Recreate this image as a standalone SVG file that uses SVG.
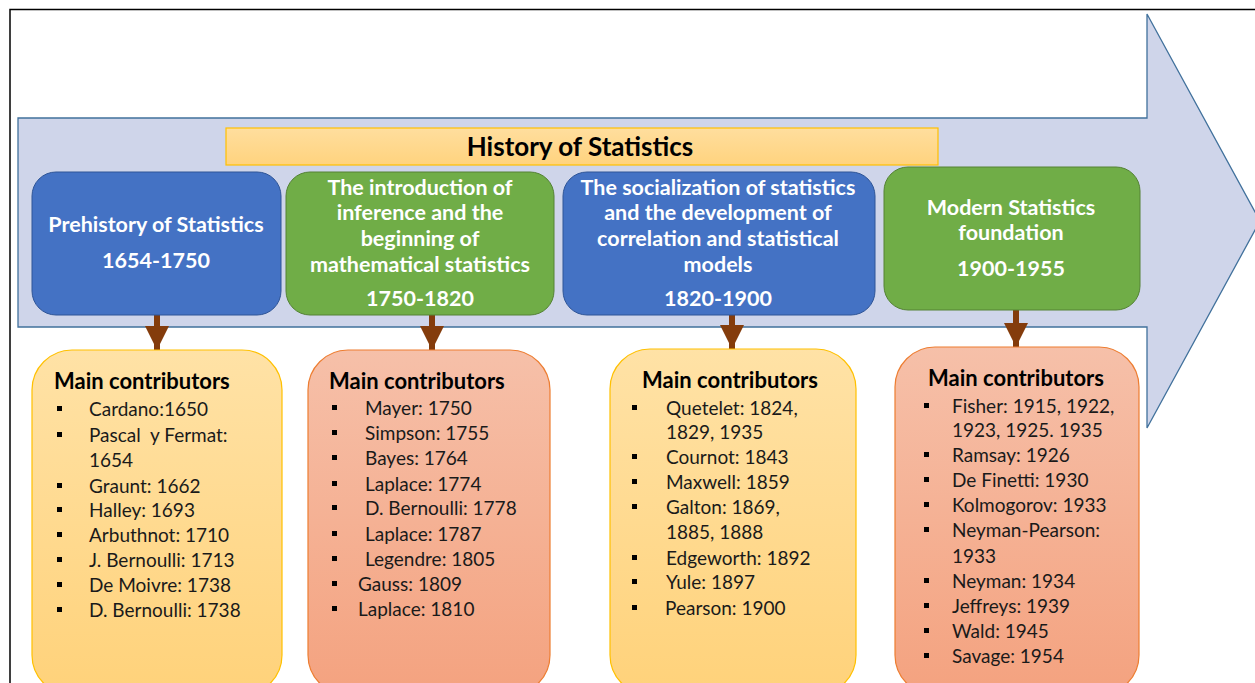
<svg xmlns="http://www.w3.org/2000/svg" width="1255" height="683" viewBox="0 0 1255 683">
<defs>
<linearGradient id="gY" x1="0" y1="0" x2="0" y2="1"><stop offset="0" stop-color="#FFE2A6"/><stop offset="1" stop-color="#FFD27A"/></linearGradient>
<linearGradient id="gS" x1="0" y1="0" x2="0" y2="1"><stop offset="0" stop-color="#F6C0A9"/><stop offset="1" stop-color="#F4A27F"/></linearGradient>
<linearGradient id="gT" x1="0" y1="0" x2="0" y2="1"><stop offset="0" stop-color="#FFDE9E"/><stop offset="1" stop-color="#FFD37E"/></linearGradient>
<marker id="ah" viewBox="0 0 10 10" refX="10" refY="5" markerWidth="4" markerHeight="4" markerUnits="strokeWidth" orient="auto"><path d="M0,0 L10,5 L0,10 z" fill="#843C0C"/></marker>
<style>
.nd{font-family:Lato,"Liberation Sans",sans-serif;font-weight:bold;fill:#fff;font-size:21.5px;text-anchor:middle}
.hd{font-family:Lato,"Liberation Sans",sans-serif;font-weight:bold;fill:#000;font-size:22px}
.it{font-family:Lato,"Liberation Sans",sans-serif;fill:#1a1a1a;font-size:19px}
.bl{fill:#000}
.blue{fill:#4472C4;stroke:#2F5597;stroke-width:1}
.green{fill:#70AD47;stroke:#548235;stroke-width:1}
.ybox{fill:url(#gY);stroke:#FFC000;stroke-width:1.2}
.sbox{fill:url(#gS);stroke:#ED7D31;stroke-width:1.2}
.conn{stroke:#843C0C;stroke-width:6;fill:none}
</style>
</defs>
<rect x="0" y="0" width="1255" height="683" fill="#fff"/>
<rect x="10" y="9.5" width="1260" height="700" fill="none" stroke="#000" stroke-width="1.5"/>
<g id="bigArrow">
<path d="M18,118 L1147,118 L1147,14 L1260,221 L1147,428 L1147,327 L18,327 Z" fill="#CFD5EA" stroke="#41719C" stroke-width="1.3"/>
</g>
<g id="title">
<rect x="226" y="128" width="712" height="37" fill="url(#gT)" stroke="#FFC000" stroke-width="1.2"/>
<text x="580" y="156" style="font-family:Lato,'Liberation Sans',sans-serif;font-weight:bold;font-size:26px;text-anchor:middle;fill:#000">History of Statistics</text>
</g>
<g id="connectors">
<line class="conn" x1="157" y1="315" x2="157" y2="350" marker-end="url(#ah)"/>
<line class="conn" x1="432" y1="315" x2="432" y2="350" marker-end="url(#ah)"/>
<line class="conn" x1="732" y1="315" x2="732" y2="349" marker-end="url(#ah)"/>
<line class="conn" x1="1016" y1="310" x2="1016" y2="347" marker-end="url(#ah)"/>
</g>
<g id="node1">
<rect class="blue" x="32" y="172" width="249" height="143" rx="24"/>
<text class="nd" x="156" y="231.5">Prehistory of Statistics</text>
<text class="nd" x="156" y="267.5">1654-1750</text>
</g>
<g id="node2">
<rect class="green" x="286" y="172" width="268" height="143" rx="24"/>
<text class="nd" x="420" y="194.5">The introduction of</text>
<text class="nd" x="420" y="219.5">inference and the</text>
<text class="nd" x="420" y="245.5">beginning of</text>
<text class="nd" x="420" y="271.5">mathematical statistics</text>
<text class="nd" x="420" y="305.5">1750-1820</text>
</g>
<g id="node3">
<rect class="blue" x="563" y="172" width="312" height="143" rx="24"/>
<text class="nd" x="718" y="194.5">The socialization of statistics</text>
<text class="nd" x="718" y="219.5">and the development of</text>
<text class="nd" x="718" y="245.5">correlation and statistical</text>
<text class="nd" x="718" y="271.5">models</text>
<text class="nd" x="718" y="305.5">1820-1900</text>
</g>
<g id="node4">
<rect class="green" x="884" y="167" width="256" height="143" rx="24"/>
<text class="nd" x="1011" y="214.5">Modern Statistics</text>
<text class="nd" x="1011" y="239.5">foundation</text>
<text class="nd" x="1011" y="275.5">1900-1955</text>
</g>
<g id="box1">
<rect class="ybox" x="32" y="350" width="250" height="345" rx="40"/>
<text class="hd" x="54" y="389">Main contributors</text>
<g class="bl"><rect x="57" y="406" width="5" height="5"/><rect x="57" y="432" width="5" height="5"/><rect x="57" y="483" width="5" height="5"/><rect x="57" y="507" width="5" height="5"/><rect x="57" y="532" width="5" height="5"/><rect x="57" y="557" width="5" height="5"/><rect x="57" y="582" width="5" height="5"/><rect x="57" y="607" width="5" height="5"/></g>
<text class="it" x="89" y="416">Cardano:1650</text>
<text class="it" x="89" y="442">Pascal&#160; y Fermat:</text>
<text class="it" x="89" y="467">1654</text>
<text class="it" x="89" y="493">Graunt: 1662</text>
<text class="it" x="89" y="517">Halley: 1693</text>
<text class="it" x="89" y="542">Arbuthnot: 1710</text>
<text class="it" x="89" y="567">J. Bernoulli: 1713</text>
<text class="it" x="89" y="592">De Moivre: 1738</text>
<text class="it" x="89" y="617">D. Bernoulli: 1738</text>
</g>
<g id="box2">
<rect class="sbox" x="308" y="350" width="242" height="345" rx="40"/>
<text class="hd" x="329" y="389">Main contributors</text>
<g class="bl"><rect x="332" y="405" width="5" height="5"/><rect x="332" y="430" width="5" height="5"/><rect x="332" y="455" width="5" height="5"/><rect x="332" y="481" width="5" height="5"/><rect x="332" y="505" width="5" height="5"/><rect x="332" y="531" width="5" height="5"/><rect x="332" y="556" width="5" height="5"/><rect x="332" y="581" width="5" height="5"/><rect x="332" y="606" width="5" height="5"/></g>
<text class="it" x="365" y="415">Mayer: 1750</text>
<text class="it" x="365" y="440">Simpson: 1755</text>
<text class="it" x="365" y="465">Bayes: 1764</text>
<text class="it" x="365" y="491">Laplace: 1774</text>
<text class="it" x="365" y="515">D. Bernoulli: 1778</text>
<text class="it" x="365" y="541">Laplace: 1787</text>
<text class="it" x="365" y="566">Legendre: 1805</text>
<text class="it" x="358" y="591">Gauss: 1809</text>
<text class="it" x="358" y="616">Laplace: 1810</text>
</g>
<g id="box3">
<rect class="ybox" x="610" y="349" width="246" height="346" rx="40"/>
<text class="hd" x="730" y="388" text-anchor="middle">Main contributors</text>
<g class="bl"><rect x="632" y="405" width="5" height="5"/><rect x="632" y="454" width="5" height="5"/><rect x="632" y="479" width="5" height="5"/><rect x="632" y="504" width="5" height="5"/><rect x="632" y="555" width="5" height="5"/><rect x="632" y="579" width="5" height="5"/><rect x="632" y="605" width="5" height="5"/></g>
<text class="it" x="666" y="415">Quetelet: 1824,</text>
<text class="it" x="666" y="439">1829, 1935</text>
<text class="it" x="666" y="464">Cournot: 1843</text>
<text class="it" x="666" y="489">Maxwell: 1859</text>
<text class="it" x="666" y="514">Galton: 1869,</text>
<text class="it" x="666" y="539">1885, 1888</text>
<text class="it" x="666" y="565">Edgeworth: 1892</text>
<text class="it" x="666" y="589">Yule: 1897</text>
<text class="it" x="665" y="615">Pearson: 1900</text>
</g>
<g id="box4">
<rect class="sbox" x="895" y="347" width="244" height="348" rx="40"/>
<text class="hd" x="1016" y="386" text-anchor="middle">Main contributors</text>
<g class="bl"><rect x="924" y="403" width="5" height="5"/><rect x="924" y="452" width="5" height="5"/><rect x="924" y="477" width="5" height="5"/><rect x="924" y="502" width="5" height="5"/><rect x="924" y="527" width="5" height="5"/><rect x="924" y="578" width="5" height="5"/><rect x="924" y="603" width="5" height="5"/><rect x="924" y="628" width="5" height="5"/><rect x="924" y="653" width="5" height="5"/></g>
<text class="it" x="952" y="413">Fisher: 1915, 1922,</text>
<text class="it" x="952" y="437">1923, 1925. 1935</text>
<text class="it" x="952" y="462">Ramsay: 1926</text>
<text class="it" x="952" y="487">De Finetti: 1930</text>
<text class="it" x="952" y="512">Kolmogorov: 1933</text>
<text class="it" x="952" y="537">Neyman-Pearson:</text>
<text class="it" x="952" y="563">1933</text>
<text class="it" x="952" y="588">Neyman: 1934</text>
<text class="it" x="952" y="613">Jeffreys: 1939</text>
<text class="it" x="952" y="638">Wald: 1945</text>
<text class="it" x="952" y="663">Savage: 1954</text>
</g>
</svg>
